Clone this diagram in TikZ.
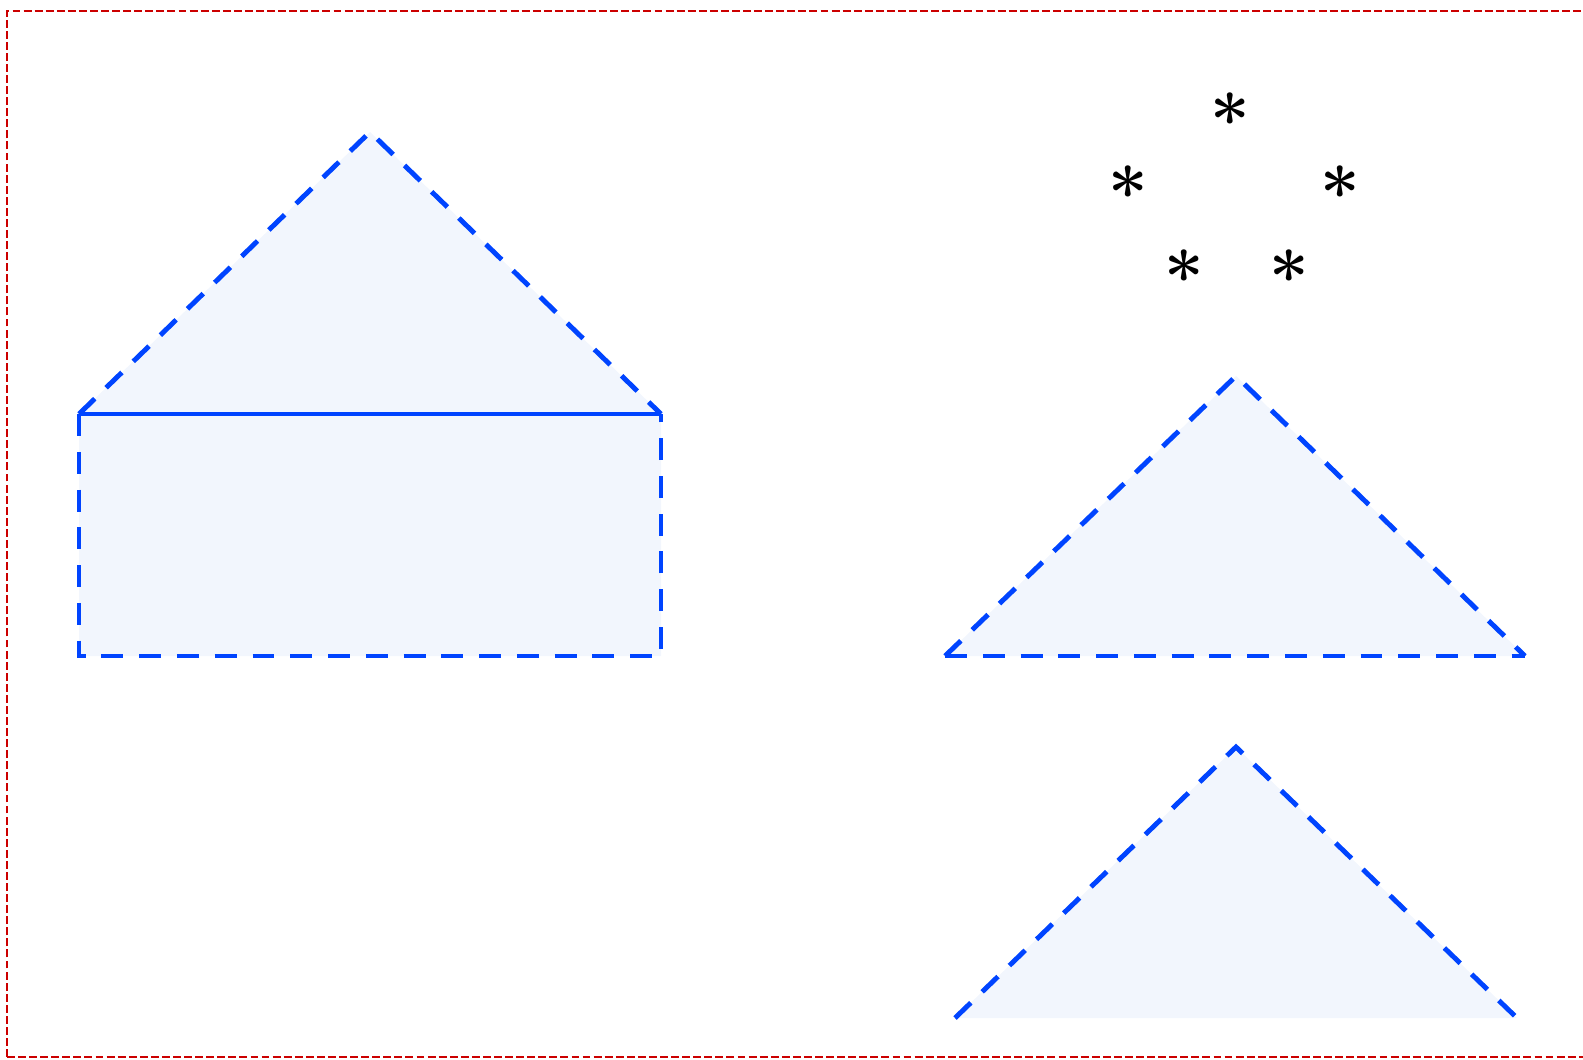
\documentclass[tikz,border=0pt]{standalone}
\begin{document}
\begin{tikzpicture}[x=0.02cm,y=-0.02cm,
  frame/.style={draw={rgb,255:red,204;green,0;blue,0},line width=1.1pt,dash pattern=on 4.5pt off 1.8pt},
  bluefill/.style={fill={rgb,255:red,242;green,246;blue,253}},
  bluedash/.style={draw={rgb,255:red,0;green,68;blue,255},line width=2.8pt,dash pattern=on 12.5pt off 9pt},
  bluesolid/.style={draw={rgb,255:red,0;green,68;blue,255},line width=2.8pt},
  star/.style={inner sep=0pt,font=\fontsize{40}{40}\selectfont\bfseries}]
\useasboundingbox (0,0) rectangle (1583,1059);
\draw[frame] (7,1057) -- (7,11) -- (1600,11);
\draw[frame] (7,1057) -- (1600,1057);
% house
\coordinate (hA) at (370,132);
\coordinate (hL) at (79,414);
\coordinate (hR) at (661,414);
\coordinate (hBL) at (79,656);
\coordinate (hBR) at (661,656);
\fill[bluefill] (hL) -- (hA) -- (hR) -- (hBR) -- (hBL) -- cycle;
\draw[bluedash] (hL) -- (hA) -- (hR);
\draw[bluedash] (hL) -- (hBL) -- (hBR) -- (hR);
\draw[bluesolid] (hL) -- (hR);
% asterisks
\node[star] (s1) at (1230,119) {*};
\node[star] (s2) at (1128,192) {*};
\node[star] (s3) at (1340,192) {*};
\node[star] (s4) at (1184,276) {*};
\node[star] (s5) at (1289,276) {*};
% triangle 1
\coordinate (tA) at (1236,376);
\coordinate (tL) at (945,656);
\coordinate (tR) at (1525,656);
\fill[bluefill] (tL) -- (tA) -- (tR) -- cycle;
\draw[bluedash] (tL) -- (tA) -- (tR);
\draw[bluedash] (tL) -- (tR);
% triangle 2
\coordinate (uA) at (1236,747);
\coordinate (uL) at (955,1018);
\coordinate (uR) at (1517,1018);
\fill[bluefill] (uL) -- (uA) -- (uR) -- cycle;
\draw[bluedash] (uL) -- (uA) -- (uR);
\end{tikzpicture}
\end{document}
